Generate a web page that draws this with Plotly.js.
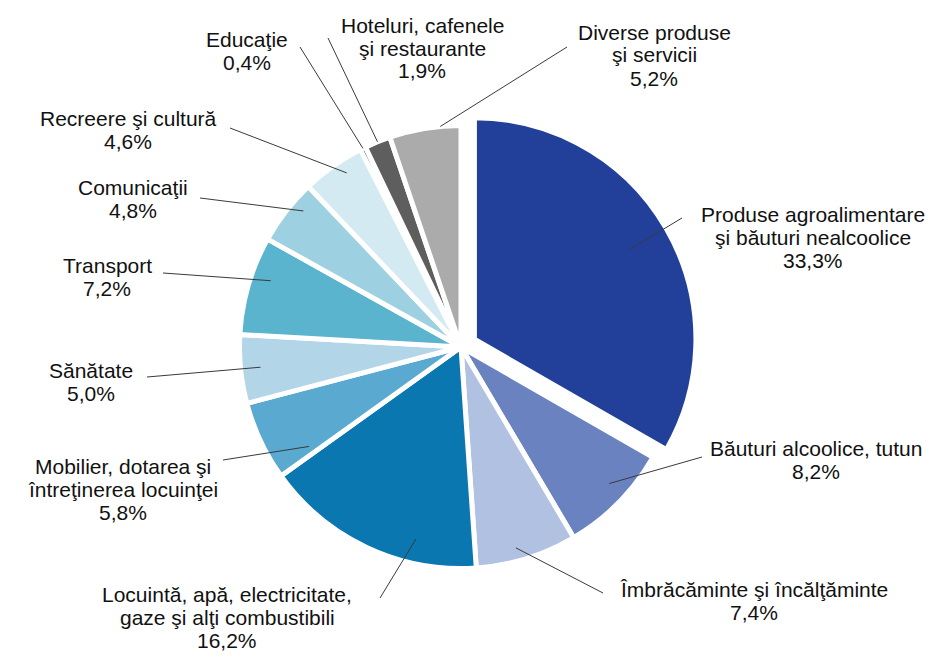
<!DOCTYPE html>
<html><head><meta charset="utf-8">
<script src="https://cdn.plot.ly/plotly-3.0.1.min.js"></script>
<style>html,body{margin:0;padding:0;background:#fff}#chart{width:940px;height:657px}</style>
</head><body><div id="chart"></div>
<script>
// ---- data ----
const categories = [
  "Produse agroalimentare<br>şi băuturi nealcoolice",
  "Băuturi alcoolice, tutun",
  "Îmbrăcăminte şi încălţăminte",
  "Locuintă, apă, electricitate,<br>gaze şi alţi combustibili",
  "Mobilier, dotarea şi<br>întreţinerea locuinţei",
  "Sănătate",
  "Transport",
  "Comunicaţii",
  "Recreere şi cultură",
  "Educaţie",
  "Hoteluri, cafenele<br>şi restaurante",
  "Diverse produse<br>şi servicii"
];
const values = [33.3, 8.2, 7.4, 16.2, 5.8, 5.0, 7.2, 4.8, 4.6, 0.4, 1.9, 5.2];
const colors = ["#22409A", "#6A82BF", "#B0C1E1", "#0A77B1", "#5AA9D0", "#B2D5E8",
                "#5AB4CE", "#9DD0E0", "#D3EAF2", "#000000", "#5E5E5E", "#ABABAB"];
const pulls = [0.07, 0, 0, 0, 0, 0, 0, 0, 0, 0, 0, 0];

// ---- label layout (pixels) ----
const labelX = [813, 816, 754, 227, 123, 91, 107, 133, 128, 247, 422, 654];
const labelY = [237, 460, 601, 617, 489, 382, 277, 199, 130, 51, 48, 55];
const lineOuterX = [682, 702, 603, 380, 223, 147, 163, 200, 230, 300, 328, 567];
const lineOuterY = [218, 457, 593, 598, 460, 377, 273, 198, 128, 47, 38, 47];
const lineInnerFrac = [0.81, 0.91, 0.94, 0.89, 0.82, 0.91, 0.91, 0.94, 0.94, 1.0, 1.0, 1.0];
const lineInnerShiftDeg = [0, -2, 2, -12, -8, 0, 3, 3, 2, 0, 0, 4];

// ---- geometry ----
const W = 940, H = 657;
const CX = 461, CY = 347, R = 221.5;
const maxPull = Math.max(...pulls);
const half = R * (1 + maxPull);
const domX = [(CX - half) / W, (CX + half) / W];
const domY = [(H - CY - half) / H, (H - CY + half) / H];

const px2x = x => x / W;
const px2y = y => 1 - y / H;

const total = values.reduce((a, b) => a + b, 0);
const fmt = v => v.toFixed(1).replace('.', ',') + '%';

const annotations = [];
const shapes = [];
const lineH = 23;
let cum = 0;
values.forEach((v, i) => {
  const midTheta = 2 * Math.PI * (cum + v / 2) / total;
  cum += v;
  const theta = midTheta + lineInnerShiftDeg[i] * Math.PI / 180;
  const off = pulls[i] * R;
  const ix = CX + off * Math.sin(midTheta) + lineInnerFrac[i] * R * Math.sin(theta);
  const iy = CY - off * Math.cos(midTheta) - lineInnerFrac[i] * R * Math.cos(theta);
  shapes.push({
    type: 'line', xref: 'paper', yref: 'paper',
    x0: px2x(lineOuterX[i]), y0: px2y(lineOuterY[i]),
    x1: px2x(ix), y1: px2y(iy),
    line: {color: '#3a3a3a', width: 1}
  });
  const lines = categories[i].split('<br>').concat([fmt(v)]);
  lines.forEach((t, k) => {
    annotations.push({
      xref: 'paper', yref: 'paper',
      x: px2x(labelX[i]),
      y: px2y(labelY[i] + (k - (lines.length - 1) / 2) * lineH),
      xanchor: 'center', yanchor: 'middle',
      text: t, showarrow: false,
      font: {family: 'Liberation Sans, Arial, sans-serif', size: 21, color: '#111'}
    });
  });
});

const trace = {
  type: 'pie',
  labels: categories,
  values: values,
  sort: false,
  direction: 'clockwise',
  rotation: 0,
  pull: pulls,
  textinfo: 'none',
  hoverinfo: 'label+percent',
  marker: {colors: colors, line: {color: '#ffffff', width: 5}},
  domain: {x: domX, y: domY}
};

Plotly.newPlot('chart', [trace], {
  width: W, height: H,
  margin: {l: 0, r: 0, t: 0, b: 0},
  paper_bgcolor: '#ffffff',
  showlegend: false,
  annotations: annotations,
  shapes: shapes
}, {displayModeBar: false, staticPlot: true});
</script>
</body></html>
